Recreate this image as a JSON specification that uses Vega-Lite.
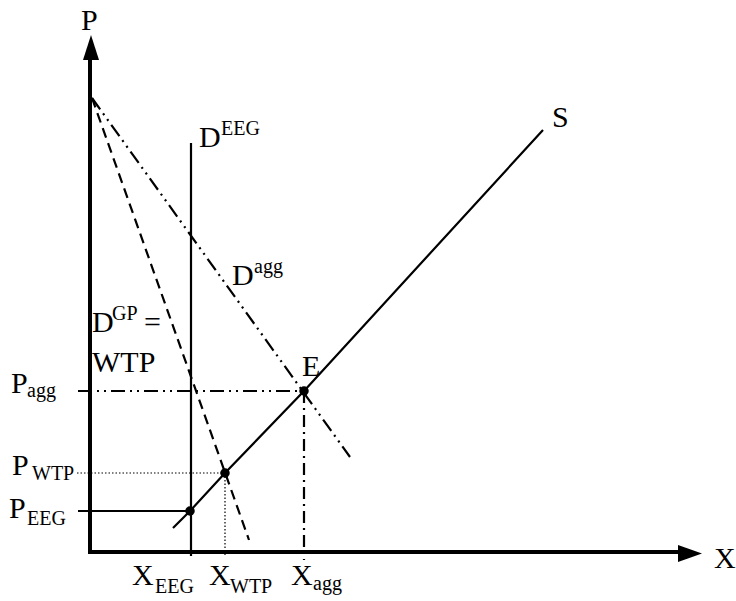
{
  "$schema": "https://vega.github.io/schema/vega-lite/v6.json",
  "width": 736,
  "height": 601,
  "autosize": {"type": "fit", "contains": "padding"},
  "padding": 0,
  "background": "white",
  "config": {"view": {"stroke": null}},
  "datasets": {
    "lines": [
      {"id": "yaxis", "style": "axis", "seq": 0, "x": 0, "y": 0},
      {"id": "yaxis", "style": "axis", "seq": 1, "x": 0, "y": 495},
      {"id": "xaxis", "style": "axis", "seq": 0, "x": 0, "y": 0},
      {"id": "xaxis", "style": "axis", "seq": 1, "x": 592, "y": 0},
      {"id": "DEEG", "style": "solid", "seq": 0, "x": 101, "y": 409},
      {"id": "DEEG", "style": "solid", "seq": 1, "x": 101, "y": -4},
      {"id": "S", "style": "solid", "seq": 0, "x": 83, "y": 24},
      {"id": "S", "style": "solid", "seq": 1, "x": 100, "y": 41},
      {"id": "S", "style": "solid", "seq": 2, "x": 135, "y": 79},
      {"id": "S", "style": "solid", "seq": 3, "x": 214, "y": 161},
      {"id": "S", "style": "solid", "seq": 4, "x": 453, "y": 422},
      {"id": "PEEG", "style": "solid", "seq": 0, "x": -12, "y": 41},
      {"id": "PEEG", "style": "solid", "seq": 1, "x": 100, "y": 41},
      {"id": "DGP", "style": "dashed", "seq": 0, "x": 2, "y": 454},
      {"id": "DGP", "style": "dashed", "seq": 1, "x": 159, "y": 12},
      {"id": "Dagg", "style": "dashdotdot", "seq": 0, "x": 2, "y": 454},
      {"id": "Dagg", "style": "dashdotdot", "seq": 1, "x": 260, "y": 95},
      {"id": "Pagg", "style": "dashdotdot", "seq": 0, "x": -12, "y": 161},
      {"id": "Pagg", "style": "dashdotdot", "seq": 1, "x": 214, "y": 161},
      {"id": "Xagg", "style": "dashdot", "seq": 0, "x": 214, "y": 161},
      {"id": "Xagg", "style": "dashdot", "seq": 1, "x": 214, "y": -8},
      {"id": "PWTP", "style": "dotted", "seq": 0, "x": -13, "y": 79},
      {"id": "PWTP", "style": "dotted", "seq": 1, "x": 135, "y": 79},
      {"id": "XWTP", "style": "dotted", "seq": 0, "x": 135, "y": 79},
      {"id": "XWTP", "style": "dotted", "seq": 1, "x": 135, "y": -5}
    ],
    "dots": [
      {"name": "E", "x": 214, "y": 161},
      {"name": "WTP", "x": 135, "y": 79},
      {"name": "EEG", "x": 100, "y": 41}
    ],
    "arrows": [
      {"dir": "up", "x": 1, "y": 504.5},
      {"dir": "right", "x": 600, "y": -1.5}
    ],
    "labels": [
      {"role": "main", "text": "P", "x": -9, "y": 522},
      {"role": "main", "text": "X", "x": 624, "y": -16},
      {"role": "main", "text": "S", "x": 462, "y": 425},
      {"role": "main", "text": "D", "x": 109, "y": 405},
      {"role": "sub", "text": "EEG", "x": 131, "y": 417},
      {"role": "main", "text": "D", "x": 142, "y": 267},
      {"role": "sub", "text": "agg", "x": 164, "y": 279},
      {"role": "main", "text": "D", "x": 2, "y": 220},
      {"role": "sub", "text": "GP", "x": 22, "y": 232},
      {"role": "main", "text": "=", "x": 54, "y": 220},
      {"role": "main", "text": "WTP", "x": 2, "y": 180},
      {"role": "main", "text": "E", "x": 212, "y": 176},
      {"role": "main", "text": "P", "x": -79, "y": 159},
      {"role": "sub", "text": "agg", "x": -63, "y": 155},
      {"role": "main", "text": "P", "x": -78, "y": 77},
      {"role": "sub", "text": "WTP", "x": -58, "y": 72},
      {"role": "main", "text": "P", "x": -81, "y": 34},
      {"role": "sub", "text": "EEG", "x": -63, "y": 27},
      {"role": "main", "text": "X", "x": 42, "y": -33},
      {"role": "sub", "text": "EEG", "x": 65, "y": -41},
      {"role": "main", "text": "X", "x": 119, "y": -33},
      {"role": "sub", "text": "WTP", "x": 140, "y": -41},
      {"role": "main", "text": "X", "x": 201, "y": -33},
      {"role": "sub", "text": "agg", "x": 223, "y": -38}
    ]
  },
  "encoding": {
    "x": {"field": "x", "type": "quantitative", "scale": {"domain": [-90, 646], "nice": false, "zero": false}, "axis": null},
    "y": {"field": "y", "type": "quantitative", "scale": {"domain": [-49, 552], "nice": false, "zero": false}, "axis": null}
  },
  "layer": [
    {
      "data": {"name": "lines"},
      "transform": [{"filter": "datum.style === 'axis'"}],
      "mark": {"type": "line", "color": "black", "strokeWidth": 4, "strokeCap": "square"},
      "encoding": {"detail": {"field": "id"}, "order": {"field": "seq"}}
    },
    {
      "data": {"name": "lines"},
      "transform": [{"filter": "datum.style === 'solid'"}],
      "mark": {"type": "line", "color": "black", "strokeWidth": 2.2},
      "encoding": {"detail": {"field": "id"}, "order": {"field": "seq"}}
    },
    {
      "data": {"name": "lines"},
      "transform": [{"filter": "datum.style === 'dashed'"}],
      "mark": {"type": "line", "color": "black", "strokeWidth": 2.2, "strokeDash": [10, 6]},
      "encoding": {"detail": {"field": "id"}, "order": {"field": "seq"}}
    },
    {
      "data": {"name": "lines"},
      "transform": [{"filter": "datum.style === 'dashdotdot'"}],
      "mark": {"type": "line", "color": "black", "strokeWidth": 2.2, "strokeDash": [14, 5, 2, 5, 2, 5]},
      "encoding": {"detail": {"field": "id"}, "order": {"field": "seq"}}
    },
    {
      "data": {"name": "lines"},
      "transform": [{"filter": "datum.style === 'dashdot'"}],
      "mark": {"type": "line", "color": "black", "strokeWidth": 2.2, "strokeDash": [12, 5, 2, 5]},
      "encoding": {"detail": {"field": "id"}, "order": {"field": "seq"}}
    },
    {
      "data": {"name": "lines"},
      "transform": [{"filter": "datum.style === 'dotted'"}],
      "mark": {"type": "line", "color": "black", "strokeWidth": 1.2, "strokeDash": [1.5, 2]},
      "encoding": {"detail": {"field": "id"}, "order": {"field": "seq"}}
    },
    {
      "data": {"name": "dots"},
      "mark": {"type": "point", "shape": "circle", "filled": true, "color": "black", "opacity": 1, "size": 90}
    },
    {
      "data": {"name": "arrows"},
      "transform": [{"filter": "datum.dir === 'up'"}],
      "mark": {"type": "point", "shape": "M0,-1L0.64,1L-0.64,1Z", "filled": true, "color": "black", "opacity": 1, "size": 625, "strokeWidth": 0}
    },
    {
      "data": {"name": "arrows"},
      "transform": [{"filter": "datum.dir === 'right'"}],
      "mark": {"type": "point", "shape": "M1,0L-1,0.71L-1,-0.71Z", "filled": true, "color": "black", "opacity": 1, "size": 576, "strokeWidth": 0}
    },
    {
      "data": {"name": "labels"},
      "transform": [{"filter": "datum.role === 'main'"}],
      "mark": {"type": "text", "font": "Liberation Serif", "fontSize": 30, "align": "left", "baseline": "alphabetic", "color": "black"},
      "encoding": {"text": {"field": "text"}}
    },
    {
      "data": {"name": "labels"},
      "transform": [{"filter": "datum.role === 'sub'"}],
      "mark": {"type": "text", "font": "Liberation Serif", "fontSize": 20, "align": "left", "baseline": "alphabetic", "color": "black"},
      "encoding": {"text": {"field": "text"}}
    }
  ]
}
